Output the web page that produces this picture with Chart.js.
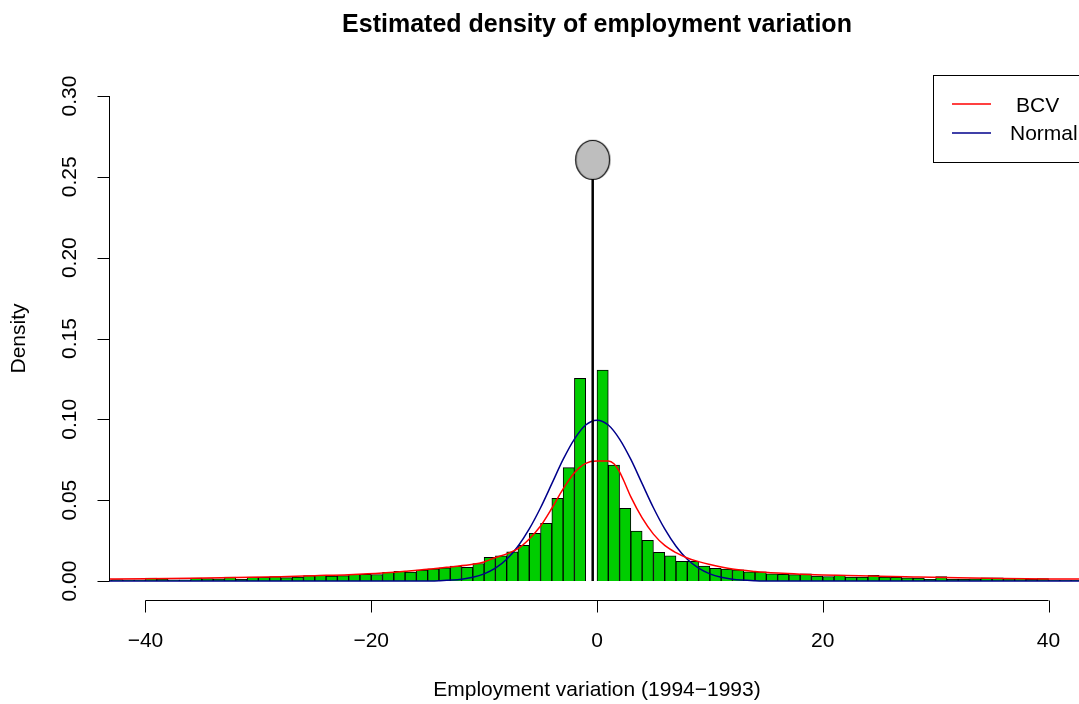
<!DOCTYPE html>
<html>
<head>
<meta charset="utf-8">
<script src="https://cdn.jsdelivr.net/npm/chart.js@4.4.1/dist/chart.umd.min.js"></script>
<style>
html, body { margin: 0; padding: 0; background: #fff; overflow: hidden; }
#wrap { width: 1079px; height: 704px; }
</style>
</head>
<body>
<div id="wrap"><canvas id="densityChart" width="1079" height="704"></canvas></div>
<script>
// histogram: unit-width bins, first bin starts at -44
const binStart = -44;
const binWidth = 1;
const binDensity = [
    0.0008, 0.0009, 0.0007, 0.0008, 0.0018, 0.0013, 0.0008, 0.0008, 0.0018, 0.0015,   // -44 .. -35
    0.0013, 0.0024, 0.0011, 0.0025, 0.0023, 0.0027, 0.0021, 0.0024, 0.0034, 0.0035,   // -34 .. -25
    0.0031, 0.0033, 0.0041, 0.0041, 0.0040, 0.0054, 0.0060, 0.0055, 0.0067, 0.0076,   // -24 .. -15
    0.0082, 0.0092, 0.0084, 0.0108, 0.0147, 0.0155, 0.0181, 0.0221, 0.0295, 0.0357,   // -14 .. -5
    0.0511, 0.0701, 0.1254, 0,                                                         // -4 .. -1
    0.1305, 0.0717, 0.0449, 0.0309, 0.0251, 0.0177, 0.0155, 0.0121, 0.0121, 0.0093,   // 0 .. 9
    0.0078, 0.0073, 0.0069, 0.0057, 0.0056, 0.0045, 0.0042, 0.0039, 0.0045, 0.0031,   // 10 .. 19
    0.0028, 0.0036, 0.0025, 0.0024, 0.0035, 0.0024, 0.0022, 0.0019, 0.0018, 0.0011,   // 20 .. 29
    0.0027, 0.0012, 0.0012, 0.0013, 0.0019, 0.0019, 0.0015, 0.0016, 0.0012, 0.0015,   // 30 .. 39
    0.0006, 0.0006, 0.0005                                                             // 40 .. 42
];

// kernel density (BCV bandwidth)
const bcvX = [-44, -40, -36, -32, -28, -25, -22, -19, -17, -15, -13, -11, -10, -9, -8, -7, -6, -5, -4, -3, -2, -1, 0, 1, 1.5, 2, 2.5, 3, 4, 5, 6, 7, 8, 9, 10, 12, 14, 16, 18, 20, 22, 25, 28, 32, 36, 40, 44];
const bcvY = [0.0012, 0.0014, 0.0017, 0.0021, 0.0027, 0.0033, 0.0039, 0.0049, 0.0060, 0.0072, 0.0087, 0.0103, 0.0118, 0.0145, 0.0168, 0.0200, 0.0260, 0.0340, 0.0450, 0.0570, 0.0670, 0.0728, 0.0742, 0.0742, 0.0725, 0.0675, 0.0600, 0.0520, 0.0390, 0.0290, 0.0220, 0.0175, 0.0142, 0.0120, 0.0102, 0.0074, 0.0059, 0.0049, 0.0042, 0.0037, 0.0034, 0.0029, 0.0025, 0.0020, 0.0016, 0.0013, 0.0012];

// fitted normal
const normX = [-44, -16, -14, -12, -11, -10, -9, -8, -7, -6, -5, -4, -3, -2, -1, 0, 1, 2, 3, 4, 5, 6, 7, 8, 9, 10, 11, 12, 14, 16, 44];
const normY = [0, 0, 0.0002, 0.0011, 0.0023, 0.0044, 0.0079, 0.0134, 0.0215, 0.0322, 0.0453, 0.0602, 0.0752, 0.0878, 0.0965, 0.0995, 0.0965, 0.0878, 0.0752, 0.0602, 0.0453, 0.0322, 0.0215, 0.0134, 0.0079, 0.0044, 0.0023, 0.0011, 0.0002, 0, 0];

// point mass of zero variations
const spikeX = -0.38;
const spikeTop = 0.25;
const spikeBall = 0.2605;

const xTicks = [-40, -20, 0, 20, 40];
const xTickLabels = ['\u221240', '\u221220', '0', '20', '40'];
const yTicks = [0, 0.05, 0.10, 0.15, 0.20, 0.25, 0.30];
const yTickLabels = ['0.00', '0.05', '0.10', '0.15', '0.20', '0.25', '0.30'];

const FONT = '"Liberation Sans", Arial, Helvetica, sans-serif';

function toPoints(xs, ys) {
    return xs.map((x, i) => ({ x: x, y: ys[i] }));
}

// ellipse marker like R's big pch=21
function makeBall() {
    const c = document.createElement('canvas');
    c.width = 37; c.height = 42;
    const g = c.getContext('2d');
    g.beginPath();
    g.ellipse(18.5, 21, 17, 19.5, 0, 0, Math.PI * 2);
    g.fillStyle = '#bebebe';
    g.fill();
    g.lineWidth = 1.2;
    g.strokeStyle = '#000';
    g.stroke();
    return c;
}

// R-style axes, labels, title and legend
const rDecor = {
    id: 'rDecor',
    afterDraw(chart) {
        const ctx = chart.ctx;
        const xs = chart.scales.x;
        const ys = chart.scales.y;
        ctx.save();
        ctx.strokeStyle = '#000';
        ctx.fillStyle = '#000';
        ctx.lineWidth = 1;

        // x axis
        const ay = Math.round(chart.chartArea.bottom) + 0.5;
        ctx.beginPath();
        ctx.moveTo(xs.getPixelForValue(xTicks[0]), ay);
        ctx.lineTo(xs.getPixelForValue(xTicks[xTicks.length - 1]), ay);
        xTicks.forEach(v => {
            const px = Math.round(xs.getPixelForValue(v)) + 0.5;
            ctx.moveTo(px, ay);
            ctx.lineTo(px, ay + 12);
        });
        ctx.stroke();
        ctx.font = '21px ' + FONT;
        ctx.textAlign = 'center';
        ctx.textBaseline = 'middle';
        xTicks.forEach((v, i) => {
            ctx.fillText(xTickLabels[i], xs.getPixelForValue(v), 641);
        });

        // y axis
        const ax = Math.round(chart.chartArea.left) + 0.5;
        ctx.beginPath();
        ctx.moveTo(ax, ys.getPixelForValue(yTicks[0]));
        ctx.lineTo(ax, ys.getPixelForValue(yTicks[yTicks.length - 1]));
        yTicks.forEach(v => {
            const py = Math.round(ys.getPixelForValue(v)) + 0.5;
            ctx.moveTo(ax, py);
            ctx.lineTo(ax - 12, py);
        });
        ctx.stroke();
        yTicks.forEach((v, i) => {
            ctx.save();
            ctx.translate(70, ys.getPixelForValue(v));
            ctx.rotate(-Math.PI / 2);
            ctx.fillText(yTickLabels[i], 0, 0);
            ctx.restore();
        });

        // axis titles
        const cx = xs.getPixelForValue(0);
        ctx.fillText('Employment variation (1994\u22121993)', cx, 690);
        ctx.save();
        ctx.translate(19, (chart.chartArea.top + chart.chartArea.bottom) / 2);
        ctx.rotate(-Math.PI / 2);
        ctx.fillText('Density', 0, 0);
        ctx.restore();

        // main title
        ctx.font = 'bold 25px ' + FONT;
        ctx.fillText('Estimated density of employment variation', cx, 25);

        // legend
        ctx.fillStyle = '#fff';
        ctx.fillRect(933.5, 75.5, 160, 87);
        ctx.strokeStyle = '#000';
        ctx.lineWidth = 1;
        ctx.strokeRect(933.5, 75.5, 160, 87);
        ctx.lineWidth = 1.5;
        ctx.strokeStyle = '#ff0000';
        ctx.beginPath(); ctx.moveTo(952, 104); ctx.lineTo(991, 104); ctx.stroke();
        ctx.strokeStyle = '#00008b';
        ctx.beginPath(); ctx.moveTo(952, 133); ctx.lineTo(991, 133); ctx.stroke();
        ctx.fillStyle = '#000';
        ctx.font = '21px ' + FONT;
        ctx.textAlign = 'left';
        ctx.fillText('BCV', 1016, 106);
        ctx.fillText('Normal', 1010, 134);
        ctx.restore();
    }
};

const histData = binDensity.map((d, i) => ({ x: binStart + i * binWidth + binWidth / 2, y: d }));

new Chart(document.getElementById('densityChart'), {
    type: 'bar',
    data: {
        datasets: [
            {
                type: 'bar',
                label: 'hist',
                data: histData,
                backgroundColor: '#00cd00',
                borderColor: '#000',
                borderWidth: 1,
                barPercentage: 1,
                categoryPercentage: 1,
                order: 4
            },
            {
                type: 'line',
                label: 'Normal',
                data: toPoints(normX, normY),
                borderColor: '#00008b',
                borderWidth: 1.5,
                pointRadius: 0,
                cubicInterpolationMode: 'monotone',
                fill: false,
                order: 3
            },
            {
                type: 'line',
                label: 'BCV',
                data: toPoints(bcvX, bcvY),
                borderColor: '#ff0000',
                borderWidth: 1.5,
                pointRadius: 0,
                cubicInterpolationMode: 'monotone',
                fill: false,
                order: 2
            },
            {
                type: 'line',
                label: 'spike',
                data: [{ x: spikeX, y: 0 }, { x: spikeX, y: spikeTop }],
                borderColor: '#000',
                borderWidth: 2.5,
                pointRadius: 0,
                fill: false,
                order: 1
            },
            {
                type: 'scatter',
                label: 'ball',
                data: [{ x: spikeX, y: spikeBall }],
                pointStyle: makeBall(),
                pointRadius: 18,
                order: 0
            }
        ]
    },
    options: {
        responsive: false,
        animation: false,
        layout: { autoPadding: false, padding: { left: 109, right: 0, top: 76.6, bottom: 103.6 } },
        plugins: {
            legend: { display: false },
            title: { display: false },
            tooltip: { enabled: false }
        },
        scales: {
            x: { type: 'linear', min: -43.23, max: 42.7, offset: false, display: false },
            y: { min: -0.012, max: 0.312, display: false }
        }
    },
    plugins: [rDecor]
});
</script>
</body>
</html>
